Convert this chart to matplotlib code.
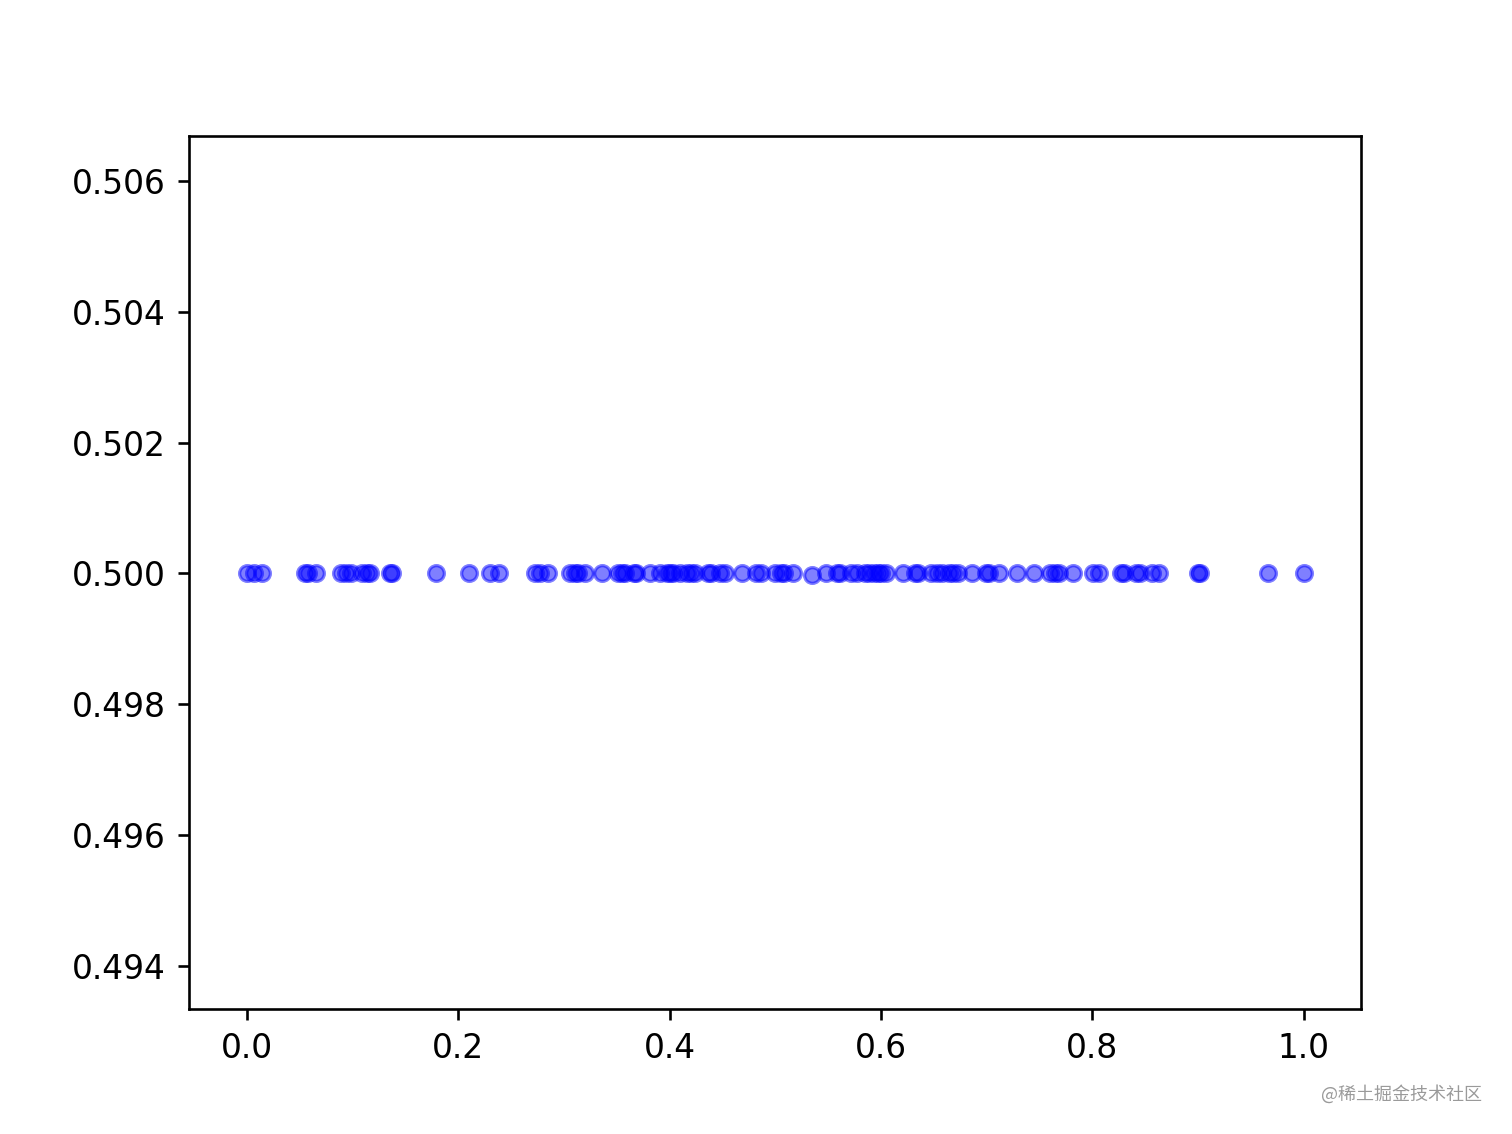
import matplotlib
matplotlib.use("Agg")
import matplotlib.pyplot as plt
import numpy as np

x_values = [
    0.0, 0.007, 0.014,
    0.055, 0.058, 0.065,
    0.089, 0.094, 0.098, 0.109, 0.114, 0.116, 0.135, 0.137,
    0.179, 0.21, 0.23, 0.238,
    0.273, 0.277, 0.285,
    0.306, 0.31, 0.313, 0.32, 0.336,
    0.351, 0.355, 0.358, 0.366, 0.368,
    0.381, 0.391, 0.397, 0.4, 0.403,
    0.41, 0.416, 0.42, 0.424,
    0.436, 0.439, 0.448, 0.452,
    0.468, 0.482, 0.486, 0.5, 0.505, 0.508, 0.517,
    0.535, 0.548, 0.558, 0.561, 0.572, 0.577, 0.585, 0.589,
    0.593, 0.597, 0.6, 0.605,
    0.621, 0.632, 0.635, 0.647, 0.653, 0.658, 0.664, 0.668, 0.673,
    0.686, 0.699, 0.702, 0.712,
    0.729, 0.745, 0.76, 0.765, 0.768,
    0.782, 0.801, 0.806,
    0.827, 0.83, 0.841, 0.845, 0.856, 0.863,
    0.9, 0.902, 0.966, 1.0,
]
y_values = [0.5] * len(x_values)
y_values[x_values.index(0.535)] = 0.49997

fig = plt.figure(figsize=(6.4, 4.8), dpi=236.25)
ax = fig.add_subplot(111)
ax.scatter(x_values, y_values, s=23, c='b', alpha=0.5)
ax.set_ylim(0.49334, 0.506685)
ax.set_yticks([0.494, 0.496, 0.498, 0.500, 0.502, 0.504, 0.506])
ax.set_xlim(-0.0549, 1.054)

fig.text(0.98, 0.035, "@稀土掘金技术社区", ha='right', va='center', fontsize=5.5,
         color='#9a9a9a', family=['Noto Sans CJK SC', 'DejaVu Sans'])

fig.savefig("out.png", dpi=236.25)
